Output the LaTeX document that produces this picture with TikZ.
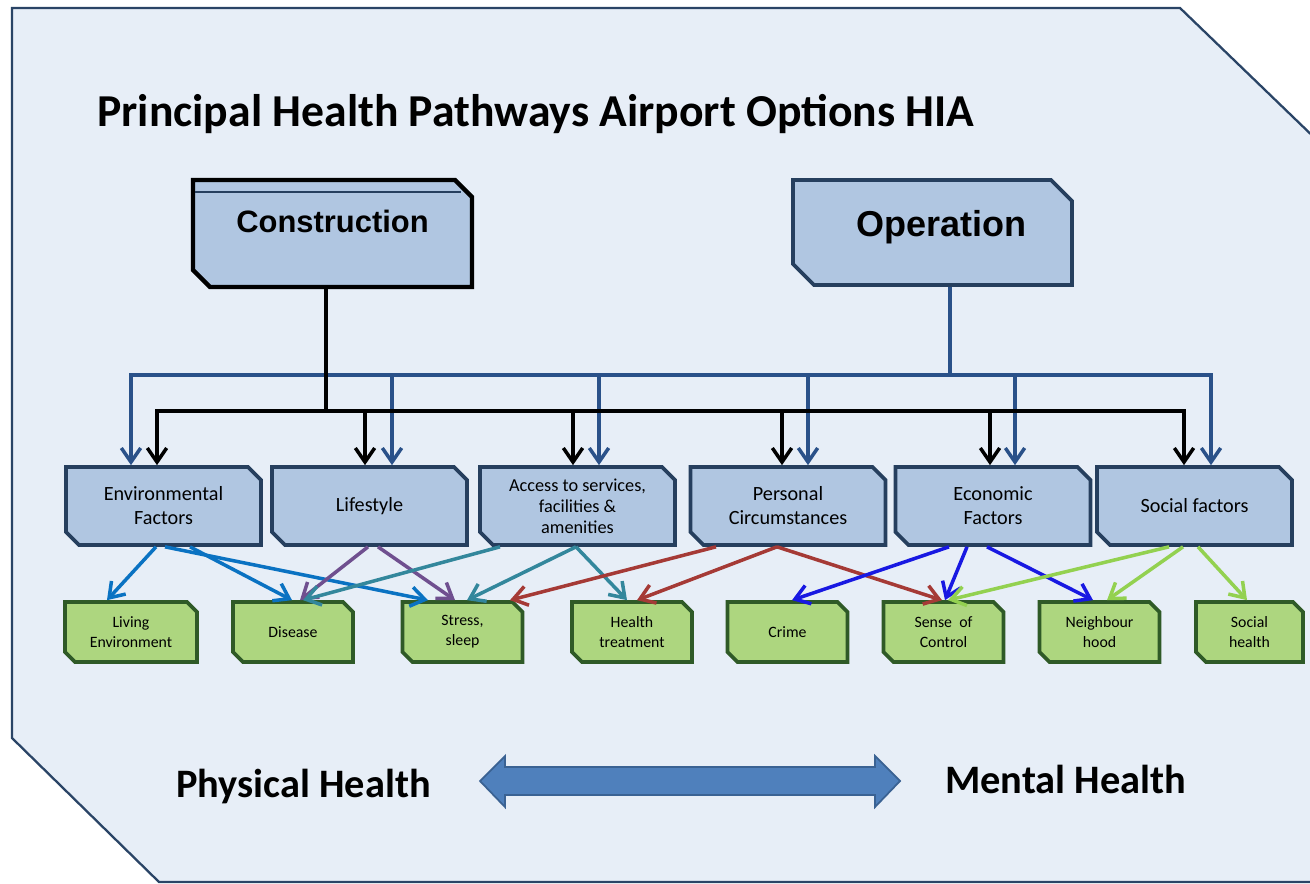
\documentclass[tikz,border=0pt]{standalone}
\usepackage{fontspec}
\setmainfont{Carlito}
\newfontfamily\arialfont{Liberation Sans}
\usetikzlibrary{shapes.misc,arrows.meta,calc}
\definecolor{panelfill}{HTML}{E7EEF7}
\definecolor{panelline}{HTML}{2A4466}
\definecolor{boxfill}{HTML}{B0C6E1}
\definecolor{boxline}{HTML}{263F5E}
\definecolor{greenfill}{HTML}{ADD67F}
\definecolor{greenline}{HTML}{2F5A27}
\definecolor{opline}{HTML}{2A5189}
\definecolor{envcol}{HTML}{0A72C2}
\definecolor{lifecol}{HTML}{6F4F8F}
\definecolor{acccol}{HTML}{33879C}
\definecolor{perscol}{HTML}{A53A36}
\definecolor{ecocol}{HTML}{1818E2}
\definecolor{soccol}{HTML}{93D150}
\definecolor{dblfill}{HTML}{4F80BC}
\definecolor{dblline}{HTML}{3A6293}

\begin{document}
\begin{tikzpicture}[x=0.02cm,y=-0.02cm,
    snip/.style={chamfered rectangle, chamfered rectangle corners={north east,south west}, inner sep=0pt},
    topbox/.style={snip, fill=boxfill, minimum width=5.58cm},
    factor/.style={snip, draw=boxline, line width=2.1pt, fill=boxfill, minimum width=3.9cm, minimum height=1.56cm,
      chamfered rectangle xsep=0.13cm, chamfered rectangle ysep=0.13cm, align=center, font=\fontsize{11.5}{13.7}\selectfont},
    outcome/.style={snip, draw=greenline, line width=2.1pt, fill=greenfill, minimum width=2.4cm, minimum height=1.2cm,
      chamfered rectangle xsep=0.1cm, chamfered rectangle ysep=0.1cm, align=center, font=\fontsize{9}{11.4}\selectfont},
    carrow/.style={line width=2pt, black, -{Straight Barb[length=8pt,width=11pt]}},
    oarrow/.style={line width=2pt, opline, -{Straight Barb[length=8pt,width=11pt]}},
    link/.style={line width=2pt, -{Straight Barb[length=8pt,width=11pt]}},
    bigtext/.style={font=\bfseries\fontsize{23}{27}\selectfont, anchor=base, inner sep=0pt}]
  \useasboundingbox (0,0) rectangle (1310,884);
  \begin{scope}
    \clip (0,0) rectangle (1310,884);
    \filldraw[fill=panelfill, draw=panelline, line width=1.3pt]
      (12,8) -- (1180,8) -- (1350,172) -- (1350,882) -- (159,882) -- (12,738) -- cycle;
  \end{scope}

  \node[anchor=base west, inner sep=0pt, font=\bfseries\fontsize{26}{30}\selectfont] (title) at (97,127)
    {Principal Health Pathways Airport Options HIA};

  \node[topbox, draw=black, line width=2.5pt, minimum height=2.14cm,
    chamfered rectangle xsep=0.17cm, chamfered rectangle ysep=0.17cm,
    font=\arialfont\bfseries\fontsize{17.6}{20}\selectfont, text height=12pt, text depth=13.7pt]
    (constr) at (332.5,233.5) {Construction};
  \draw[boxline, line width=1pt] ($(constr.north west)+(4,14)$) -- ($(constr.north west)+(270,14)$);
  \node[topbox, draw=boxline, line width=2.1pt, minimum height=2.1cm,
    chamfered rectangle xsep=0.21cm, chamfered rectangle ysep=0.21cm,
    font=\arialfont\bfseries\fontsize{20.5}{24}\selectfont, text height=14pt, text depth=10pt]
    (oper) at (932.5,232.5) {\hspace*{0.36cm}Operation};

  \node[factor] (env) at (163.5,506) {Environmental\\Factors};
  \node[factor] (life) at (369.5,506) {Lifestyle};
  \node[factor, font=\fontsize{10.4}{12}\selectfont] (access) at (577.5,506) {Access to services,\\facilities \&\\amenities};
  \node[factor] (pers) at (788,506) {Personal\\Circumstances};
  \node[factor] (econ) at (993,506) {Economic\\Factors};
  \node[factor] (social) at (1194.5,506) {Social factors};

  \node[outcome, minimum width=2.64cm] (living) at (131,632) {Living\\Environment};
  \node[outcome] (disease) at (293,632) {Disease};
  \node[outcome] (stress) at (462.5,632) {Stress,\\sleep};
  \node[outcome] (health) at (632,632) {Health\\treatment};
  \node[outcome] (crime) at (787.5,632) {Crime};
  \node[outcome] (sense) at (943.5,632) {Sense\ \ of\\Control};
  \node[outcome] (neigh) at (1099.5,632) {Neighbour\\hood};
  \node[outcome, minimum width=2.14cm] (socialh) at (1249.5,632) {Social\\health};

  \coordinate (cbus) at (326,411);
  \coordinate (obus) at (950,375);
  \draw[line width=2pt, opline] (oper.south -| obus) -- (obus);
  \draw[oarrow] (obus) -| ($(env.north)+(-32.5,0)$);
  \draw[oarrow] (obus) -| ($(life.north)+(22.5,0)$);
  \draw[oarrow] (obus) -| ($(access.north)+(21.5,0)$);
  \draw[oarrow] (obus) -| ($(pers.north)+(20,0)$);
  \draw[oarrow] (obus) -| ($(econ.north)+(22,0)$);
  \draw[oarrow] (obus) -| ($(social.north)+(16.5,0)$);
  \draw[line width=2pt] (constr.south -| cbus) -- (cbus);
  \draw[carrow] (cbus) -| ($(env.north)+(-6.5,0)$);
  \draw[carrow] (cbus) -| ($(life.north)+(-4.5,0)$);
  \draw[carrow] (cbus) -| ($(access.north)+(-4.5,0)$);
  \draw[carrow] (cbus) -| ($(pers.north)+(-6,0)$);
  \draw[carrow] (cbus) -| ($(econ.north)+(-3,0)$);
  \draw[carrow] (cbus) -| ($(social.north)+(-10.5,0)$);

  \draw[link, envcol] ($(env.south)+(-7.5,0)$) -- ($(living.north)+(-24,0)$);
  \draw[link, envcol] ($(env.south)+(26.5,0)$) -- ($(disease.north)+(-1,0)$);
  \draw[link, envcol] ($(env.south)+(1.5,0)$) -- ($(stress.north)+(-34.5,0)$);
  \draw[link, lifecol] ($(life.south)+(-1.5,0)$) -- ($(disease.north)+(7,0)$);
  \draw[link, lifecol] ($(life.south)+(8.5,0)$) -- ($(stress.north)+(-7.5,0)$);
  \draw[link, acccol] ($(access.south)+(-77.5,0)$) -- ($(disease.north)+(10,0)$);
  \draw[link, acccol] ($(access.south)+(-1.5,0)$) -- ($(stress.north)+(4.5,0)$);
  \draw[link, acccol] ($(access.south)+(-1.5,0)$) -- ($(health.north)+(-5,0)$);
  \draw[link, perscol] ($(pers.south)+(-72,0)$) -- ($(stress.north)+(47.5,0)$);
  \draw[link, perscol] ($(pers.south)+(-11,0)$) -- ($(health.north)+(5,0)$);
  \draw[link, perscol] ($(pers.south)+(-11,0)$) -- ($(sense.north)+(-1.5,0)$);
  \draw[link, ecocol] ($(econ.south)+(-44,0)$) -- ($(crime.north)+(4.5,0)$);
  \draw[link, ecocol] ($(econ.south)+(-26,0)$) -- ($(sense.north)+(1.5,0)$);
  \draw[link, ecocol] ($(econ.south)+(-6,0)$) -- ($(neigh.north)+(-6.5,0)$);
  \draw[link, soccol] ($(social.south)+(-25.5,0)$) -- ($(sense.north)+(4.5,0)$);
  \draw[link, soccol] ($(social.south)+(-11.5,0)$) -- ($(neigh.north)+(7.5,0)$);
  \draw[link, soccol] ($(social.south)+(3.5,0)$) -- ($(socialh.north)+(-2.5,0)$);

  \filldraw[fill=dblfill, draw=dblline, line width=1pt]
    (480,781) -- (505,756) -- (505,767) -- (875,767) -- (875,756) -- (900,781)
    -- (875,807) -- (875,795) -- (505,795) -- (505,807) -- cycle;
  \node[bigtext] (phys) at (303.5,797) {Physical Health};
  \node[bigtext] (ment) at (1065.5,793) {Mental Health};
\end{tikzpicture}
\end{document}
